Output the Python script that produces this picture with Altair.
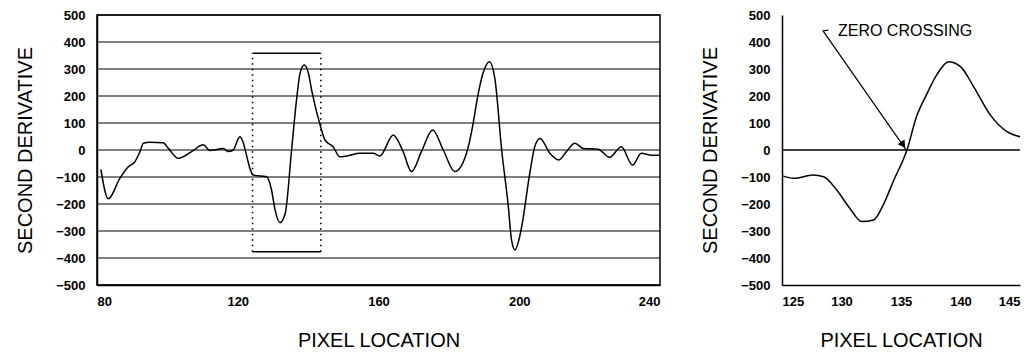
import altair as alt
import pandas as pd

# ---- data ----
left_x = [81.1, 83.2, 86.5, 88.9, 90.8, 92.2, 93.2, 95.0, 98.8, 100.3, 103.1, 106.9, 110.2,
          112.1, 115.9, 117.3, 118.7, 120.6, 121.5, 122.5, 123.5, 124.4, 128.2, 129.6, 130.6,
          132.0, 133.5, 135.3, 136.7, 137.7, 138.9, 140.1, 141.0, 143.4, 144.8, 147.1, 149.0,
          151.0, 154.7, 158.5, 160.4, 164.2, 167.0, 169.4, 172.2, 175.4, 178.4, 181.7, 185.0,
          186.9, 188.0, 189.7, 191.5, 193.1, 195.0, 196.9, 197.8, 198.8, 199.9, 200.7, 203.0,
          204.4, 205.9, 208.7, 211.2, 213.4, 215.8, 218.2, 222.4, 225.7, 229.0, 232.2, 234.7,
          237.6, 240.0]
left_y = [-72, -181, -105, -62, -43, -6, 25, 29, 27, 6, -31, -6, 19,
          -2, 6, -6, 0, 49, 30, -20, -70, -93, -99, -148, -222,
          -269, -234, 0, 185, 284, 315, 284, 222, 93, 37, 12, -25,
          -22, -12, -12, -22, 56, -6, -80, -6, 74, 0, -80, -12,
          99, 185, 284, 327, 262, 0, -210, -333, -370, -333, -284, -86,
          12, 43, -12, -37, -6, 25, 6, 3, -27, 12, -56, -12,
          -19, -19]

right_x = [125.0, 126.0, 127.6, 128.5, 129.6, 130.7, 131.7, 132.7, 133.5, 134.4, 135.5,
           136.3, 137.2, 138.0, 139.0, 140.0, 141.1, 142.5, 143.9, 145.0]
right_y = [-95, -105, -93, -99, -148, -216, -265, -259, -204, -111, 0,
           123, 210, 278, 327, 309, 235, 130, 68, 49]

y_ticks = list(range(-500, 501, 100))
left_ticks = [80, 120, 160, 200, 240]
right_ticks = [125, 130, 135, 140, 145]

box_x = [124.2, 143.6]
box_y = [-377, 358]

annot_label = ["ZERO CROSSING"]
annot_x = [129.7]
annot_y = [442]
arrow_x = [128.9, 128.45, 135.4]
arrow_y = [444, 441, 2]
head_x = [135.18]
head_y = [19]

FONT = "Liberation Sans"

# ---- tables ----
left_df = pd.DataFrame({"x": left_x, "y": left_y})
right_df = pd.DataFrame({"x": right_x, "y": right_y})
grid_df = pd.DataFrame({"y": y_ticks})
box_v = pd.DataFrame({"x": box_x, "y": [box_y[0]] * 2, "y2": [box_y[1]] * 2})
box_h = pd.DataFrame({"x": [box_x[0]] * 2, "x2": [box_x[1]] * 2, "y": box_y})
arrow_df = pd.DataFrame({"x": arrow_x, "y": arrow_y, "o": list(range(len(arrow_x)))})
head_df = pd.DataFrame({"x": head_x, "y": head_y})
annot_df = pd.DataFrame({"x": annot_x, "y": annot_y, "t": annot_label})

axis_common = dict(
    labelFont=FONT, titleFont=FONT, labelFontSize=13, labelFontWeight="bold",
    titleFontSize=20, titleFontWeight="normal", labelColor="black", titleColor="black",
    domainColor="black", domainWidth=1.5, ticks=False, labelOverlap=False, grid=False,
)

# ---- left panel ----
lx = alt.X("x:Q", scale=alt.Scale(domain=[80, 240], nice=False, zero=False),
           axis=alt.Axis(values=left_ticks, tickCount=len(left_ticks), title="PIXEL LOCATION",
                         labelPadding=10, titlePadding=22, **axis_common))
ly = alt.Y("y:Q", scale=alt.Scale(domain=[-500, 500], nice=False),
           axis=alt.Axis(values=y_ticks, tickCount=len(y_ticks), title="SECOND DERIVATIVE",
                         labelPadding=12, titlePadding=20, **axis_common))

left_grid = alt.Chart(grid_df).mark_rule(color="black", strokeWidth=1.2).encode(y=ly)
left_line = alt.Chart(left_df).mark_line(color="black", strokeWidth=1.5,
                                         interpolate="monotone").encode(x=lx, y=ly)
left_dots = alt.Chart(box_v).mark_rule(color="black", strokeWidth=1.6,
                                       strokeDash=[1.5, 4]).encode(x="x:Q", y="y:Q", y2="y2:Q")
left_brk = alt.Chart(box_h).mark_rule(color="black", strokeWidth=1.5).encode(
    x="x:Q", x2="x2:Q", y="y:Q")

left = alt.layer(left_grid, left_line, left_dots, left_brk).properties(
    width=563, height=270,
    view=alt.ViewBackground(stroke="black", strokeWidth=1.5))

# ---- right panel ----
rx = alt.X("x:Q", scale=alt.Scale(domain=[125, 145], nice=False, zero=False),
           axis=alt.Axis(values=right_ticks, tickCount=len(right_ticks), title="PIXEL LOCATION",
                         labelPadding=10, titlePadding=22, **axis_common))
ry = alt.Y("y:Q", scale=alt.Scale(domain=[-500, 500], nice=False),
           axis=alt.Axis(values=y_ticks, tickCount=len(y_ticks), title="SECOND DERIVATIVE",
                         labelPadding=12, titlePadding=20, **axis_common))

right_line = alt.Chart(right_df).mark_line(color="black", strokeWidth=1.5,
                                           interpolate="monotone").encode(x=rx, y=ry)
zero_rule = alt.Chart(pd.DataFrame({"x": [125], "x2": [145], "y": [0]})).mark_rule(
    color="black", strokeWidth=1.5).encode(x="x:Q", x2="x2:Q", y="y:Q")
arrow = alt.Chart(arrow_df).mark_line(color="black", strokeWidth=1.2).encode(
    x="x:Q", y="y:Q", order="o:Q")
head = alt.Chart(head_df).mark_point(shape="triangle-up", angle=145, size=70,
                                     filled=True, color="black", opacity=1).encode(
    x="x:Q", y="y:Q")
annot = alt.Chart(annot_df).mark_text(align="left", baseline="middle", font=FONT,
                                      fontSize=16, color="black").encode(
    x="x:Q", y="y:Q", text="t:N")

right = alt.layer(right_line, zero_rule, arrow, head, annot).properties(
    width=238, height=270,
    view=alt.ViewBackground(stroke="transparent"))

chart = alt.hconcat(left, right, spacing=36).properties(
    padding={"left": 6, "top": 0, "right": 0, "bottom": 0},
    background="white")

chart.save("out.html", embed_options={"renderer": "svg", "actions": False})
